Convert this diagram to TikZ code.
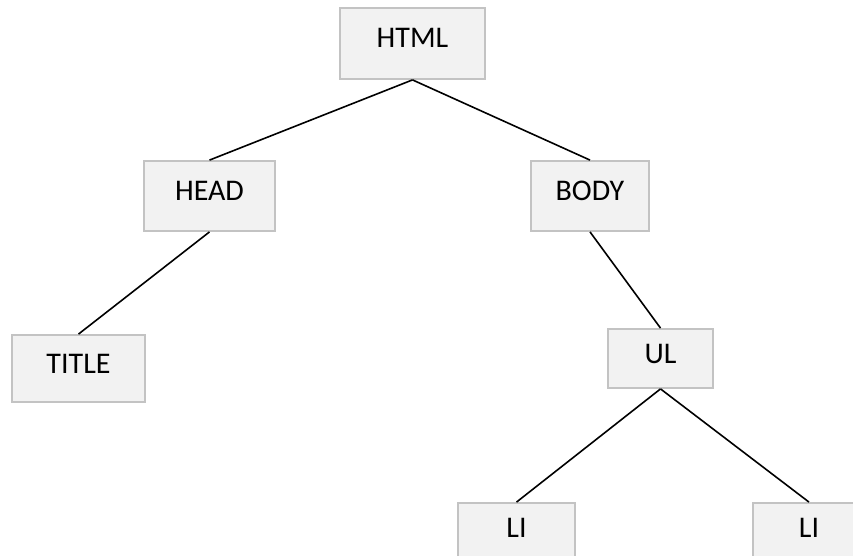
\documentclass[tikz,border=0pt]{standalone}
\usepackage{fontspec}
\setmainfont{Carlito}
\definecolor{boxfill}{HTML}{F2F2F2}
\definecolor{boxline}{HTML}{C3C3C3}
\begin{document}
\begin{tikzpicture}[x=1pt,y=-1pt,
  tag/.style={draw=boxline,line width=1.8pt,fill=boxfill,inner sep=0pt,
    font=\fontsize{30}{32}\selectfont,text height=19pt,text depth=10pt},
  edge/.style={draw=black,line width=1.6pt}]
\useasboundingbox (0,0) rectangle (853,556);
\node[tag,minimum width=145pt,minimum height=71pt] (html) at (412.5,43.5) {HTML};
\node[tag,minimum width=131pt,minimum height=70pt] (head) at (209.5,196) {HEAD};
\node[tag,minimum width=118pt,minimum height=70pt] (body) at (590,196) {BODY};
\node[tag,minimum width=133pt,minimum height=67pt] (title) at (78.5,368.5) {TITLE};
\node[tag,minimum width=105pt,minimum height=59pt] (ul) at (660.5,358.5) {UL};
\node[tag,minimum width=117pt,minimum height=60pt] (li1) at (516.5,533) {LI};
\node[tag,minimum width=112pt,minimum height=60pt] (li2) at (809,533) {LI};
\draw[edge] (html.south) -- (head.north);
\draw[edge] (html.south) -- (body.north);
\draw[edge] (head.south) -- (title.north);
\draw[edge] (body.south) -- (ul.north);
\draw[edge] (ul.south) -- (li1.north);
\draw[edge] (ul.south) -- (li2.north);
\end{tikzpicture}
\end{document}
